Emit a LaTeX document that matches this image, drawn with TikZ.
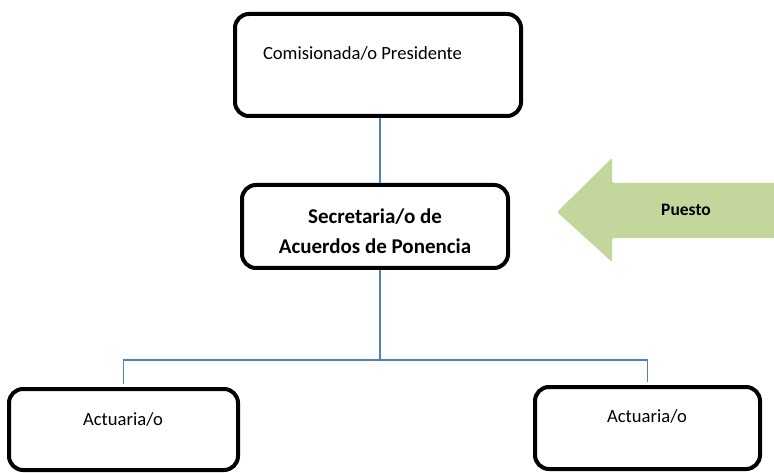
\documentclass[tikz,border=0pt]{standalone}
\usepackage{fontspec}
\setmainfont{Carlito}
\begin{document}
\begin{tikzpicture}[x=1pt,y=-1pt,
  box/.style={draw=black, line width=4pt, rounded corners=14pt, fill=white, inner sep=0pt},
  conn/.style={draw=connblue, line width=1.5pt},
  lbl/.style={font=\fontsize{18.6}{22}\selectfont, inner sep=0pt, anchor=base},
  blbl/.style={font=\fontsize{21}{30}\selectfont\bfseries, inner sep=0pt, align=center}]
\definecolor{connblue}{HTML}{4F81BD}
\definecolor{arrowgreen}{HTML}{C3D69B}
\useasboundingbox (0,0) rectangle (774,473);
% boxes
\node[box, minimum width=286pt, minimum height=102pt] (top) at (378,65) {};
\node[box, minimum width=266pt, minimum height=83pt] (mid) at (375,226.5) {};
\node[box, minimum width=229pt, minimum height=81pt] (left) at (123.5,429.5) {};
\node[box, minimum width=225pt, minimum height=82pt] (right) at (647.5,428) {};
% texts
\node[lbl] (toptext) at (362.5,60) {Comisionada/o Presidente};
\node[blbl] (midtext) at (375,231) {Secretaria/o de\\Acuerdos de Ponencia};
\node[lbl] (lefttext) at (123,425) {Actuaria/o};
\node[lbl] (righttext) at (647,422) {Actuaria/o};
% connectors
\coordinate (hub) at (380,360);
\draw[conn] (top.south -| hub) -- (mid.north -| hub);
\draw[conn] (mid.south -| hub) -- (hub);
\draw[conn, shorten >=3pt] (hub) -| (left.north);
\draw[conn, shorten >=3pt] (hub) -| (right.north);
% arrow
\fill[arrowgreen, rounded corners=1.5pt] (557,212) -- (612,158) -- (612,183) -- (780,183) -- (780,238) -- (612,238) -- (612,262) -- cycle;
\node[font=\fontsize{17.5}{20}\selectfont\bfseries, inner sep=0pt, anchor=base] (puesto) at (686,215.5) {Puesto};
\end{tikzpicture}
\end{document}
